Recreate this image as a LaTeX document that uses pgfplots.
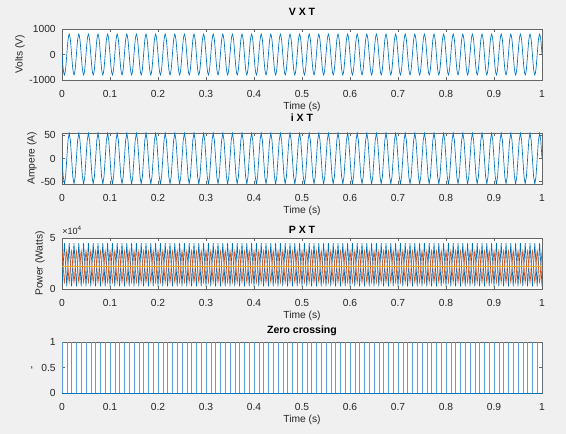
\documentclass[border=0pt]{standalone}
\usepackage{fontspec}
\setmainfont{Liberation Sans}
\usepackage{pgfplots}
\usepackage{pgfplotstable}
\pgfplotsset{compat=1.18}

\definecolor{mblue}{RGB}{0,114,189}
\definecolor{morange}{RGB}{217,83,25}
\definecolor{myellow}{RGB}{237,177,32}
\definecolor{figbg}{RGB}{240,240,240}

% t, voltage, current, instantaneous power, second power trace
\pgfplotstableread{
t v i p q
0.0000 0 0 2500 37500
0.0025 -565.7 -38.9 23800 22000
0.0050 -800 -55 45000 6500
0.0075 -565.7 -38.9 23800 22000
0.0100 0 0 2500 37500
0.0125 565.7 38.9 23800 22000
0.0150 800 55 45000 6500
0.0175 565.7 38.9 23800 22000
0.0200 0 0 2500 37500
0.0225 -565.7 -38.9 23800 22000
0.0250 -800 -55 45000 6500
0.0275 -565.7 -38.9 23800 22000
0.0300 0 0 2500 37500
0.0325 565.7 38.9 23800 22000
0.0350 800 55 45000 6500
0.0375 565.7 38.9 23800 22000
0.0400 0 0 2500 37500
0.0425 -565.7 -38.9 23800 22000
0.0450 -800 -55 45000 6500
0.0475 -565.7 -38.9 23800 22000
0.0500 0 0 2500 37500
0.0525 565.7 38.9 23800 22000
0.0550 800 55 45000 6500
0.0575 565.7 38.9 23800 22000
0.0600 0 0 2500 37500
0.0625 -565.7 -38.9 23800 22000
0.0650 -800 -55 45000 6500
0.0675 -565.7 -38.9 23800 22000
0.0700 0 0 2500 37500
0.0725 565.7 38.9 23800 22000
0.0750 800 55 45000 6500
0.0775 565.7 38.9 23800 22000
0.0800 0 0 2500 37500
0.0825 -565.7 -38.9 23800 22000
0.0850 -800 -55 45000 6500
0.0875 -565.7 -38.9 23800 22000
0.0900 0 0 2500 37500
0.0925 565.7 38.9 23800 22000
0.0950 800 55 45000 6500
0.0975 565.7 38.9 23800 22000
0.1000 0 0 2500 37500
0.1025 -565.7 -38.9 23800 22000
0.1050 -800 -55 45000 6500
0.1075 -565.7 -38.9 23800 22000
0.1100 0 0 2500 37500
0.1125 565.7 38.9 23800 22000
0.1150 800 55 45000 6500
0.1175 565.7 38.9 23800 22000
0.1200 0 0 2500 37500
0.1225 -565.7 -38.9 23800 22000
0.1250 -800 -55 45000 6500
0.1275 -565.7 -38.9 23800 22000
0.1300 0 0 2500 37500
0.1325 565.7 38.9 23800 22000
0.1350 800 55 45000 6500
0.1375 565.7 38.9 23800 22000
0.1400 0 0 2500 37500
0.1425 -565.7 -38.9 23800 22000
0.1450 -800 -55 45000 6500
0.1475 -565.7 -38.9 23800 22000
0.1500 0 0 2500 37500
0.1525 565.7 38.9 23800 22000
0.1550 800 55 45000 6500
0.1575 565.7 38.9 23800 22000
0.1600 0 0 2500 37500
0.1625 -565.7 -38.9 23800 22000
0.1650 -800 -55 45000 6500
0.1675 -565.7 -38.9 23800 22000
0.1700 0 0 2500 37500
0.1725 565.7 38.9 23800 22000
0.1750 800 55 45000 6500
0.1775 565.7 38.9 23800 22000
0.1800 0 0 2500 37500
0.1825 -565.7 -38.9 23800 22000
0.1850 -800 -55 45000 6500
0.1875 -565.7 -38.9 23800 22000
0.1900 0 0 2500 37500
0.1925 565.7 38.9 23800 22000
0.1950 800 55 45000 6500
0.1975 565.7 38.9 23800 22000
0.2000 0 0 2500 37500
0.2025 -565.7 -38.9 23800 22000
0.2050 -800 -55 45000 6500
0.2075 -565.7 -38.9 23800 22000
0.2100 0 0 2500 37500
0.2125 565.7 38.9 23800 22000
0.2150 800 55 45000 6500
0.2175 565.7 38.9 23800 22000
0.2200 0 0 2500 37500
0.2225 -565.7 -38.9 23800 22000
0.2250 -800 -55 45000 6500
0.2275 -565.7 -38.9 23800 22000
0.2300 0 0 2500 37500
0.2325 565.7 38.9 23800 22000
0.2350 800 55 45000 6500
0.2375 565.7 38.9 23800 22000
0.2400 0 0 2500 37500
0.2425 -565.7 -38.9 23800 22000
0.2450 -800 -55 45000 6500
0.2475 -565.7 -38.9 23800 22000
0.2500 0 0 2500 37500
0.2525 565.7 38.9 23800 22000
0.2550 800 55 45000 6500
0.2575 565.7 38.9 23800 22000
0.2600 0 0 2500 37500
0.2625 -565.7 -38.9 23800 22000
0.2650 -800 -55 45000 6500
0.2675 -565.7 -38.9 23800 22000
0.2700 0 0 2500 37500
0.2725 565.7 38.9 23800 22000
0.2750 800 55 45000 6500
0.2775 565.7 38.9 23800 22000
0.2800 0 0 2500 37500
0.2825 -565.7 -38.9 23800 22000
0.2850 -800 -55 45000 6500
0.2875 -565.7 -38.9 23800 22000
0.2900 0 0 2500 37500
0.2925 565.7 38.9 23800 22000
0.2950 800 55 45000 6500
0.2975 565.7 38.9 23800 22000
0.3000 0 0 2500 37500
0.3025 -565.7 -38.9 23800 22000
0.3050 -800 -55 45000 6500
0.3075 -565.7 -38.9 23800 22000
0.3100 0 0 2500 37500
0.3125 565.7 38.9 23800 22000
0.3150 800 55 45000 6500
0.3175 565.7 38.9 23800 22000
0.3200 0 0 2500 37500
0.3225 -565.7 -38.9 23800 22000
0.3250 -800 -55 45000 6500
0.3275 -565.7 -38.9 23800 22000
0.3300 0 0 2500 37500
0.3325 565.7 38.9 23800 22000
0.3350 800 55 45000 6500
0.3375 565.7 38.9 23800 22000
0.3400 0 0 2500 37500
0.3425 -565.7 -38.9 23800 22000
0.3450 -800 -55 45000 6500
0.3475 -565.7 -38.9 23800 22000
0.3500 0 0 2500 37500
0.3525 565.7 38.9 23800 22000
0.3550 800 55 45000 6500
0.3575 565.7 38.9 23800 22000
0.3600 0 0 2500 37500
0.3625 -565.7 -38.9 23800 22000
0.3650 -800 -55 45000 6500
0.3675 -565.7 -38.9 23800 22000
0.3700 0 0 2500 37500
0.3725 565.7 38.9 23800 22000
0.3750 800 55 45000 6500
0.3775 565.7 38.9 23800 22000
0.3800 0 0 2500 37500
0.3825 -565.7 -38.9 23800 22000
0.3850 -800 -55 45000 6500
0.3875 -565.7 -38.9 23800 22000
0.3900 0 0 2500 37500
0.3925 565.7 38.9 23800 22000
0.3950 800 55 45000 6500
0.3975 565.7 38.9 23800 22000
0.4000 0 0 2500 37500
0.4025 -565.7 -38.9 23800 22000
0.4050 -800 -55 45000 6500
0.4075 -565.7 -38.9 23800 22000
0.4100 0 0 2500 37500
0.4125 565.7 38.9 23800 22000
0.4150 800 55 45000 6500
0.4175 565.7 38.9 23800 22000
0.4200 0 0 2500 37500
0.4225 -565.7 -38.9 23800 22000
0.4250 -800 -55 45000 6500
0.4275 -565.7 -38.9 23800 22000
0.4300 0 0 2500 37500
0.4325 565.7 38.9 23800 22000
0.4350 800 55 45000 6500
0.4375 565.7 38.9 23800 22000
0.4400 0 0 2500 37500
0.4425 -565.7 -38.9 23800 22000
0.4450 -800 -55 45000 6500
0.4475 -565.7 -38.9 23800 22000
0.4500 0 0 2500 37500
0.4525 565.7 38.9 23800 22000
0.4550 800 55 45000 6500
0.4575 565.7 38.9 23800 22000
0.4600 0 0 2500 37500
0.4625 -565.7 -38.9 23800 22000
0.4650 -800 -55 45000 6500
0.4675 -565.7 -38.9 23800 22000
0.4700 0 0 2500 37500
0.4725 565.7 38.9 23800 22000
0.4750 800 55 45000 6500
0.4775 565.7 38.9 23800 22000
0.4800 0 0 2500 37500
0.4825 -565.7 -38.9 23800 22000
0.4850 -800 -55 45000 6500
0.4875 -565.7 -38.9 23800 22000
0.4900 0 0 2500 37500
0.4925 565.7 38.9 23800 22000
0.4950 800 55 45000 6500
0.4975 565.7 38.9 23800 22000
0.5000 0 0 2500 37500
0.5025 -565.7 -38.9 23800 22000
0.5050 -800 -55 45000 6500
0.5075 -565.7 -38.9 23800 22000
0.5100 0 0 2500 37500
0.5125 565.7 38.9 23800 22000
0.5150 800 55 45000 6500
0.5175 565.7 38.9 23800 22000
0.5200 0 0 2500 37500
0.5225 -565.7 -38.9 23800 22000
0.5250 -800 -55 45000 6500
0.5275 -565.7 -38.9 23800 22000
0.5300 0 0 2500 37500
0.5325 565.7 38.9 23800 22000
0.5350 800 55 45000 6500
0.5375 565.7 38.9 23800 22000
0.5400 0 0 2500 37500
0.5425 -565.7 -38.9 23800 22000
0.5450 -800 -55 45000 6500
0.5475 -565.7 -38.9 23800 22000
0.5500 0 0 2500 37500
0.5525 565.7 38.9 23800 22000
0.5550 800 55 45000 6500
0.5575 565.7 38.9 23800 22000
0.5600 0 0 2500 37500
0.5625 -565.7 -38.9 23800 22000
0.5650 -800 -55 45000 6500
0.5675 -565.7 -38.9 23800 22000
0.5700 0 0 2500 37500
0.5725 565.7 38.9 23800 22000
0.5750 800 55 45000 6500
0.5775 565.7 38.9 23800 22000
0.5800 0 0 2500 37500
0.5825 -565.7 -38.9 23800 22000
0.5850 -800 -55 45000 6500
0.5875 -565.7 -38.9 23800 22000
0.5900 0 0 2500 37500
0.5925 565.7 38.9 23800 22000
0.5950 800 55 45000 6500
0.5975 565.7 38.9 23800 22000
0.6000 0 0 2500 37500
0.6025 -565.7 -38.9 23800 22000
0.6050 -800 -55 45000 6500
0.6075 -565.7 -38.9 23800 22000
0.6100 0 0 2500 37500
0.6125 565.7 38.9 23800 22000
0.6150 800 55 45000 6500
0.6175 565.7 38.9 23800 22000
0.6200 0 0 2500 37500
0.6225 -565.7 -38.9 23800 22000
0.6250 -800 -55 45000 6500
0.6275 -565.7 -38.9 23800 22000
0.6300 0 0 2500 37500
0.6325 565.7 38.9 23800 22000
0.6350 800 55 45000 6500
0.6375 565.7 38.9 23800 22000
0.6400 0 0 2500 37500
0.6425 -565.7 -38.9 23800 22000
0.6450 -800 -55 45000 6500
0.6475 -565.7 -38.9 23800 22000
0.6500 0 0 2500 37500
0.6525 565.7 38.9 23800 22000
0.6550 800 55 45000 6500
0.6575 565.7 38.9 23800 22000
0.6600 0 0 2500 37500
0.6625 -565.7 -38.9 23800 22000
0.6650 -800 -55 45000 6500
0.6675 -565.7 -38.9 23800 22000
0.6700 0 0 2500 37500
0.6725 565.7 38.9 23800 22000
0.6750 800 55 45000 6500
0.6775 565.7 38.9 23800 22000
0.6800 0 0 2500 37500
0.6825 -565.7 -38.9 23800 22000
0.6850 -800 -55 45000 6500
0.6875 -565.7 -38.9 23800 22000
0.6900 0 0 2500 37500
0.6925 565.7 38.9 23800 22000
0.6950 800 55 45000 6500
0.6975 565.7 38.9 23800 22000
0.7000 0 0 2500 37500
0.7025 -565.7 -38.9 23800 22000
0.7050 -800 -55 45000 6500
0.7075 -565.7 -38.9 23800 22000
0.7100 0 0 2500 37500
0.7125 565.7 38.9 23800 22000
0.7150 800 55 45000 6500
0.7175 565.7 38.9 23800 22000
0.7200 0 0 2500 37500
0.7225 -565.7 -38.9 23800 22000
0.7250 -800 -55 45000 6500
0.7275 -565.7 -38.9 23800 22000
0.7300 0 0 2500 37500
0.7325 565.7 38.9 23800 22000
0.7350 800 55 45000 6500
0.7375 565.7 38.9 23800 22000
0.7400 0 0 2500 37500
0.7425 -565.7 -38.9 23800 22000
0.7450 -800 -55 45000 6500
0.7475 -565.7 -38.9 23800 22000
0.7500 0 0 2500 37500
0.7525 565.7 38.9 23800 22000
0.7550 800 55 45000 6500
0.7575 565.7 38.9 23800 22000
0.7600 0 0 2500 37500
0.7625 -565.7 -38.9 23800 22000
0.7650 -800 -55 45000 6500
0.7675 -565.7 -38.9 23800 22000
0.7700 0 0 2500 37500
0.7725 565.7 38.9 23800 22000
0.7750 800 55 45000 6500
0.7775 565.7 38.9 23800 22000
0.7800 0 0 2500 37500
0.7825 -565.7 -38.9 23800 22000
0.7850 -800 -55 45000 6500
0.7875 -565.7 -38.9 23800 22000
0.7900 0 0 2500 37500
0.7925 565.7 38.9 23800 22000
0.7950 800 55 45000 6500
0.7975 565.7 38.9 23800 22000
0.8000 0 0 2500 37500
0.8025 -565.7 -38.9 23800 22000
0.8050 -800 -55 45000 6500
0.8075 -565.7 -38.9 23800 22000
0.8100 0 0 2500 37500
0.8125 565.7 38.9 23800 22000
0.8150 800 55 45000 6500
0.8175 565.7 38.9 23800 22000
0.8200 0 0 2500 37500
0.8225 -565.7 -38.9 23800 22000
0.8250 -800 -55 45000 6500
0.8275 -565.7 -38.9 23800 22000
0.8300 0 0 2500 37500
0.8325 565.7 38.9 23800 22000
0.8350 800 55 45000 6500
0.8375 565.7 38.9 23800 22000
0.8400 0 0 2500 37500
0.8425 -565.7 -38.9 23800 22000
0.8450 -800 -55 45000 6500
0.8475 -565.7 -38.9 23800 22000
0.8500 0 0 2500 37500
0.8525 565.7 38.9 23800 22000
0.8550 800 55 45000 6500
0.8575 565.7 38.9 23800 22000
0.8600 0 0 2500 37500
0.8625 -565.7 -38.9 23800 22000
0.8650 -800 -55 45000 6500
0.8675 -565.7 -38.9 23800 22000
0.8700 0 0 2500 37500
0.8725 565.7 38.9 23800 22000
0.8750 800 55 45000 6500
0.8775 565.7 38.9 23800 22000
0.8800 0 0 2500 37500
0.8825 -565.7 -38.9 23800 22000
0.8850 -800 -55 45000 6500
0.8875 -565.7 -38.9 23800 22000
0.8900 0 0 2500 37500
0.8925 565.7 38.9 23800 22000
0.8950 800 55 45000 6500
0.8975 565.7 38.9 23800 22000
0.9000 0 0 2500 37500
0.9025 -565.7 -38.9 23800 22000
0.9050 -800 -55 45000 6500
0.9075 -565.7 -38.9 23800 22000
0.9100 0 0 2500 37500
0.9125 565.7 38.9 23800 22000
0.9150 800 55 45000 6500
0.9175 565.7 38.9 23800 22000
0.9200 0 0 2500 37500
0.9225 -565.7 -38.9 23800 22000
0.9250 -800 -55 45000 6500
0.9275 -565.7 -38.9 23800 22000
0.9300 0 0 2500 37500
0.9325 565.7 38.9 23800 22000
0.9350 800 55 45000 6500
0.9375 565.7 38.9 23800 22000
0.9400 0 0 2500 37500
0.9425 -565.7 -38.9 23800 22000
0.9450 -800 -55 45000 6500
0.9475 -565.7 -38.9 23800 22000
0.9500 0 0 2500 37500
0.9525 565.7 38.9 23800 22000
0.9550 800 55 45000 6500
0.9575 565.7 38.9 23800 22000
0.9600 0 0 2500 37500
0.9625 -565.7 -38.9 23800 22000
0.9650 -800 -55 45000 6500
0.9675 -565.7 -38.9 23800 22000
0.9700 0 0 2500 37500
0.9725 565.7 38.9 23800 22000
0.9750 800 55 45000 6500
0.9775 565.7 38.9 23800 22000
0.9800 0 0 2500 37500
0.9825 -565.7 -38.9 23800 22000
0.9850 -800 -55 45000 6500
0.9875 -565.7 -38.9 23800 22000
0.9900 0 0 2500 37500
0.9925 565.7 38.9 23800 22000
0.9950 800 55 45000 6500
0.9975 565.7 38.9 23800 22000
1.0000 0 0 2500 37500
}\sig

\pgfplotsset{
  sub/.style={
    scale only axis, width=360pt, height=38.25pt,
    anchor=north west,
    xmin=0, xmax=1,
    xtick={0,0.1,0.2,0.3,0.4,0.5,0.6,0.7,0.8,0.9,1},
    axis background/.style={fill=white},
    axis line style={draw=black!60, line width=0.4pt},
    every tick/.style={draw=black!60, line width=0.4pt},
    tick align=inside,
    major tick length=2.4pt,
    tick label style={font=\fontsize{7.7}{9}\selectfont, text=black!85},
    label style={font=\fontsize{7.7}{9}\selectfont, text=black!85},
    every axis title/.style={at={(0.5,1)}, anchor=base, inner sep=0pt,
      font=\bfseries\fontsize{7.9}{9}\selectfont, text=black},
    /pgf/number format/assume math mode=true,
    /pgf/number format/1000 sep={},
    scaled y ticks=false,
    xticklabel shift=4.2pt,
    yticklabel shift=1.2pt,
    xlabel={Time (s)},
    xlabel style={at={(axis description cs:0.5,0)}, anchor=north,
      inner sep=0pt, yshift=-16.2pt},
    every axis y label/.style={at={(axis description cs:0,0.5)}, rotate=90,
      anchor=center, inner sep=0pt,
      font=\fontsize{7.7}{9}\selectfont, text=black!85},
  },
}

\begin{document}
\begin{tikzpicture}
\useasboundingbox (0,0) rectangle (424.5pt,-325.5pt);
\fill[figbg] (0,0) rectangle (424.5pt,-325.5pt);

% ylabel style shifts act in the rotated frame: yshift moves the label left
\begin{axis}[sub, at={(46.5pt,-21.75pt)},
  title={V X T}, title style={yshift=10pt},
  ylabel={Volts (V)}, ylabel style={yshift=31.5pt},
  ymin=-1000, ymax=1000, ytick={-1000,0,1000}]
  \addplot[mblue, line width=0.5pt, smooth] table[x=t, y=v] {\sig};
\end{axis}

\begin{axis}[sub, at={(46.5pt,-99.75pt)},
  title={i X T}, title style={yshift=8.5pt},
  ylabel={Ampere (A)}, ylabel style={yshift=22.5pt},
  ymin=-55, ymax=55, ytick={-50,0,50}]
  \addplot[mblue, line width=0.5pt] table[x=t, y=i] {\sig};
\end{axis}

\begin{axis}[sub, at={(46.5pt,-178.5pt)}, name=pax,
  title={P X T}, title style={yshift=3.5pt},
  ylabel={Power (Watts)}, ylabel style={yshift=16.5pt},
  ymin=0, ymax=50000, ytick={0,50000}, yticklabels={0,5}]
  \addplot[mblue, line width=0.5pt] table[x=t, y=p] {\sig};
  \addplot[morange, line width=0.5pt, smooth] table[x=t, y=q] {\sig};
  \addplot[myellow, line width=0.5pt] coordinates {(0,22000) (1,22000)};
\end{axis}
\node[anchor=base west, inner sep=0pt, font=\fontsize{6.8}{7}\selectfont, text=black!85]
  at ([yshift=2.6pt]pax.north west) {×10\textsuperscript{4}};

\begin{axis}[sub, at={(46.5pt,-256.5pt)},
  title={Zero crossing}, title style={yshift=6.2pt},
  ylabel={-}, ylabel style={yshift=21.75pt},
  ymin=0, ymax=1, ytick={0,0.5,1}]
  \addplot[mblue!65, line width=0.3pt, ycomb] coordinates {
    (0,1)(0.01,1)(0.02,1)(0.03,1)(0.04,1)(0.05,1)(0.06,1)(0.07,1)(0.08,1)(0.09,1)
    (0.10,1)(0.11,1)(0.12,1)(0.13,1)(0.14,1)(0.15,1)(0.16,1)(0.17,1)(0.18,1)(0.19,1)
    (0.20,1)(0.21,1)(0.22,1)(0.23,1)(0.24,1)(0.25,1)(0.26,1)(0.27,1)(0.28,1)(0.29,1)
    (0.30,1)(0.31,1)(0.32,1)(0.33,1)(0.34,1)(0.35,1)(0.36,1)(0.37,1)(0.38,1)(0.39,1)
    (0.40,1)(0.41,1)(0.42,1)(0.43,1)(0.44,1)(0.45,1)(0.46,1)(0.47,1)(0.48,1)(0.49,1)
    (0.50,1)(0.51,1)(0.52,1)(0.53,1)(0.54,1)(0.55,1)(0.56,1)(0.57,1)(0.58,1)(0.59,1)
    (0.60,1)(0.61,1)(0.62,1)(0.63,1)(0.64,1)(0.65,1)(0.66,1)(0.67,1)(0.68,1)(0.69,1)
    (0.70,1)(0.71,1)(0.72,1)(0.73,1)(0.74,1)(0.75,1)(0.76,1)(0.77,1)(0.78,1)(0.79,1)
    (0.80,1)(0.81,1)(0.82,1)(0.83,1)(0.84,1)(0.85,1)(0.86,1)(0.87,1)(0.88,1)(0.89,1)
    (0.90,1)(0.91,1)(0.92,1)(0.93,1)(0.94,1)(0.95,1)(0.96,1)(0.97,1)(0.98,1)(0.99,1)
    (1.00,1)};
  \addplot[mblue, line width=0.6pt] coordinates {(0,0) (1,0)};
\end{axis}
\end{tikzpicture}
\end{document}
